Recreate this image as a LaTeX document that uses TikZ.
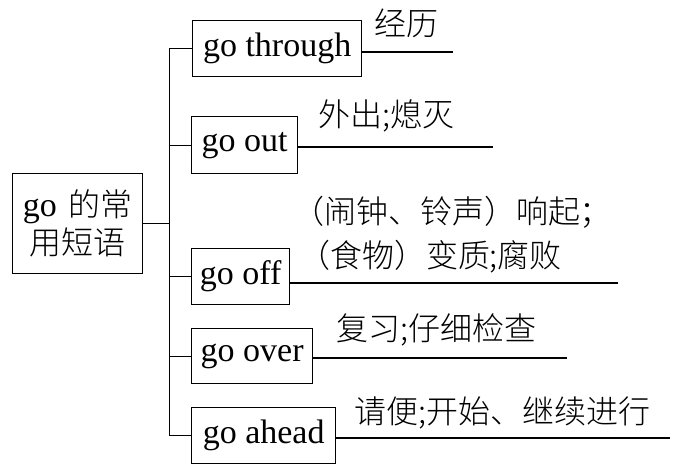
\documentclass[tikz,border=0pt]{standalone}
\usepackage{fontspec}
\setmainfont{Liberation Serif}
\newfontfamily\cjk{Noto Sans CJK SC Light}
\begin{document}
\begin{tikzpicture}[x=1pt,y=-1pt,
  font=\fontsize{34}{42}\selectfont,
  every path/.style={line width=1.3pt},
  box/.style={draw, line width=1.3pt, inner sep=0pt, anchor=north west},
  lbl/.style={inner sep=0pt, font=\fontsize{32}{44}\selectfont\cjk}]
\useasboundingbox (0,0) rectangle (673,469);
% root
\node[box, minimum width=130, minimum height=100, align=center, text width=130] (root) at (12,173)
  {go {\fontsize{32}{40}\selectfont\cjk 的常}\\[-4pt]{\fontsize{32}{40}\selectfont\cjk 用短语}};
% boxes
\node[box, minimum width=169, minimum height=56] (b1) at (192,20) {go through};
\node[box, minimum width=106, minimum height=57] (b2) at (191,116) {go out};
\node[box, minimum width=98, minimum height=56] (b3) at (191,248) {go off};
\node[box, minimum width=121, minimum height=55] (b4) at (191,328) {go over};
\node[box, minimum width=144, minimum height=56] (b5) at (191,407) {go ahead};
% trunk
\draw (root.east) -- ++(26,0) coordinate (j);
\draw (j |- b1.west) -- (j |- b5.west);
\foreach \b in {b1,b2,b3,b4,b5} \draw (j |- \b.west) -- (\b.west);
% leaf lines
\coordinate (e1) at (453,52);
\coordinate (e2) at (493,147);
\coordinate (e3) at (618,283);
\coordinate (e4) at (567,358);
\coordinate (e5) at (670,438);
\draw (b1.east |- e1) -- (e1);
\draw (b2.east |- e2) -- (e2);
\draw (b3.east |- e3) -- (e3);
\draw (b4.east |- e4) -- (e4);
\draw (b5.east |- e5) -- (e5);
% labels
\node[lbl] (t1) at (406,23) {经历};
\node[lbl] (t2) at (386,116) {外出;熄灭};
\node[lbl] (t3a) at (452,212) {（闹钟、铃声）响起；};
\node[lbl] (t3b) at (430,257) {（食物）变质;腐败};
\node[lbl] (t4) at (436,330) {复习;仔细检查};
\node[lbl] (t5) at (502,413) {请便;开始、继续进行};
\end{tikzpicture}
\end{document}
